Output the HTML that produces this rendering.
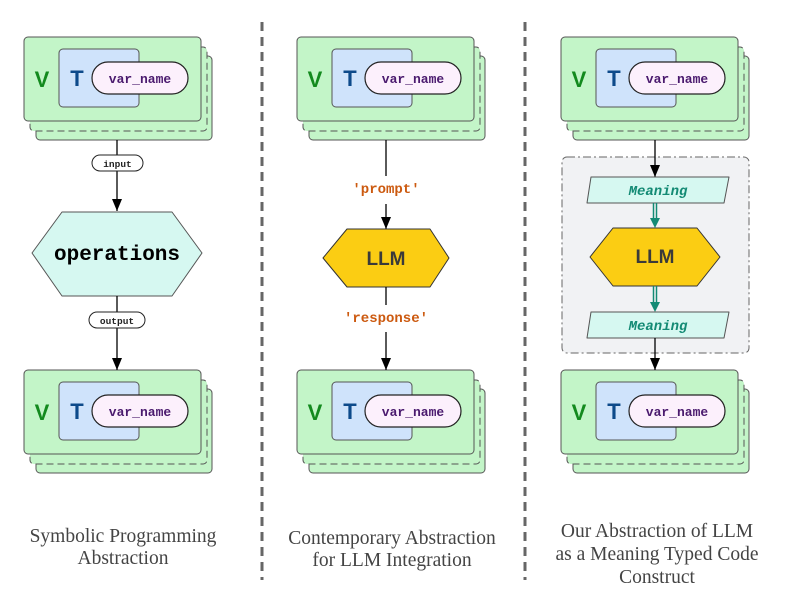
<!DOCTYPE html>
<html><head><meta charset="utf-8"><style>
html,body{margin:0;padding:0;background:#fff;}
svg{display:block;}
.mono{font-family:"Liberation Mono",monospace;font-weight:bold;}
.cap{font-family:"Liberation Serif",serif;font-size:19.5px;fill:#444;text-anchor:middle;}
</style></head><body>
<svg width="789" height="603" viewBox="0 0 789 603" xmlns="http://www.w3.org/2000/svg">
<defs>
<marker id="ah" markerWidth="12" markerHeight="10" refX="12" refY="5" orient="auto" markerUnits="userSpaceOnUse"><path d="M0,0 L12,5 L0,10 Z" fill="#000"/></marker>
<g id="card">
<rect x="36" y="56" width="176" height="84" rx="4" fill="#c3f5c8" stroke="#555" stroke-width="1"/>
<rect x="30" y="47" width="177" height="84" rx="4" fill="#c3f5c8" stroke="#555" stroke-width="1" stroke-dasharray="7,4"/>
<rect x="24" y="37" width="177" height="84" rx="4" fill="#c3f5c8" stroke="#555" stroke-width="1"/>
<rect x="59" y="49" width="80" height="58" rx="4" fill="#cfe3fb" stroke="#555" stroke-width="1"/>
<rect x="92" y="62" width="96" height="32" rx="16" fill="#fcf0fc" stroke="#222" stroke-width="1.2"/>
<text x="42" y="87" font-family="Liberation Sans,sans-serif" font-weight="bold" font-size="22" fill="#138a1e" text-anchor="middle">V</text>
<text x="77" y="86" font-family="Liberation Sans,sans-serif" font-weight="bold" font-size="22" fill="#0d4a8a" text-anchor="middle">T</text>
<text x="140" y="83" class="mono" font-size="13" fill="#4a1a6e" text-anchor="middle">var_name</text>
</g>
</defs>
<line x1="262" y1="22" x2="262" y2="580" stroke="#666" stroke-width="3" stroke-dasharray="9,6"/>
<line x1="525" y1="22" x2="525" y2="580" stroke="#666" stroke-width="3" stroke-dasharray="9,6"/>

<use href="#card"/>
<use href="#card" transform="translate(0,333)"/>
<line x1="117" y1="140" x2="117" y2="211" stroke="#000" stroke-width="1.3" marker-end="url(#ah)"/>
<rect x="92" y="155" width="51" height="16" rx="8" fill="#fff" stroke="#222"/>
<text x="117.5" y="167" class="mono" font-size="9.5" fill="#222" text-anchor="middle">input</text>
<polygon points="32,253 62,212 172,212 202,253 172,296 62,296" fill="#d6f8f1" stroke="#555" stroke-linejoin="round"/>
<text x="117" y="260" class="mono" font-size="21" fill="#000" text-anchor="middle">operations</text>
<line x1="117" y1="296" x2="117" y2="370" stroke="#000" stroke-width="1.3" marker-end="url(#ah)"/>
<rect x="89" y="312" width="56" height="16" rx="8" fill="#fff" stroke="#222"/>
<text x="117" y="324" class="mono" font-size="9.5" fill="#222" text-anchor="middle">output</text>
<text x="123" y="542" class="cap">Symbolic Programming</text>
<text x="123" y="564" class="cap">Abstraction</text>

<use href="#card" transform="translate(273,0)"/>
<use href="#card" transform="translate(273,333)"/>
<line x1="386" y1="140" x2="386" y2="176" stroke="#000" stroke-width="1.3"/>
<text x="386" y="193" class="mono" font-size="14" fill="#cc5a10" text-anchor="middle">'prompt'</text>
<line x1="386" y1="204" x2="386" y2="229" stroke="#000" stroke-width="1.3" marker-end="url(#ah)"/>
<polygon points="323,258 347,229 430,229 449,258 430,287 347,287" fill="#fbcd13" stroke="#333" stroke-linejoin="round"/>
<text x="386" y="265" font-family="Liberation Sans,sans-serif" font-weight="bold" font-size="19" fill="#3a3a3a" text-anchor="middle">LLM</text>
<line x1="386" y1="287" x2="386" y2="305" stroke="#000" stroke-width="1.3"/>
<text x="386" y="322" class="mono" font-size="14" fill="#cc5a10" text-anchor="middle">'response'</text>
<line x1="386" y1="332" x2="386" y2="370" stroke="#000" stroke-width="1.3" marker-end="url(#ah)"/>
<text x="392" y="544" class="cap">Contemporary Abstraction</text>
<text x="392" y="566" class="cap">for LLM Integration</text>

<use href="#card" transform="translate(537,0)"/>
<use href="#card" transform="translate(537,333)"/>
<rect x="562" y="157" width="187" height="196" rx="5" fill="#f1f2f4" stroke="#666" stroke-dasharray="8,3,2,3"/>
<line x1="655" y1="140" x2="655" y2="177" stroke="#000" stroke-width="1.3" marker-end="url(#ah)"/>
<polygon points="591,177 729,177 724,203 587,203" fill="#d6f8f1" stroke="#555" stroke-linejoin="round"/>
<text x="658" y="195" class="mono" font-size="14" font-style="italic" fill="#138a74" text-anchor="middle">Meaning</text>
<line x1="653.5" y1="203" x2="653.5" y2="220" stroke="#138a74" stroke-width="1.5"/>
<line x1="656.5" y1="203" x2="656.5" y2="220" stroke="#138a74" stroke-width="1.5"/>
<path d="M650,218 L660,218 L655,228 Z" fill="#138a74"/>
<polygon points="590,257 613,228 697,228 720,257 697,286 613,286" fill="#fbcd13" stroke="#333" stroke-linejoin="round"/>
<text x="655" y="263" font-family="Liberation Sans,sans-serif" font-weight="bold" font-size="19" fill="#3a3a3a" text-anchor="middle">LLM</text>
<line x1="653.5" y1="286" x2="653.5" y2="304" stroke="#138a74" stroke-width="1.5"/>
<line x1="656.5" y1="286" x2="656.5" y2="304" stroke="#138a74" stroke-width="1.5"/>
<path d="M650,302 L660,302 L655,312 Z" fill="#138a74"/>
<polygon points="591,312 729,312 724,338 587,338" fill="#d6f8f1" stroke="#555" stroke-linejoin="round"/>
<text x="658" y="330" class="mono" font-size="14" font-style="italic" fill="#138a74" text-anchor="middle">Meaning</text>
<line x1="655" y1="338" x2="655" y2="370" stroke="#000" stroke-width="1.3" marker-end="url(#ah)"/>
<text x="657" y="537" class="cap">Our Abstraction of LLM</text>
<text x="657" y="560" class="cap">as a Meaning Typed Code</text>
<text x="657" y="583" class="cap">Construct</text>
</svg>
</body></html>
